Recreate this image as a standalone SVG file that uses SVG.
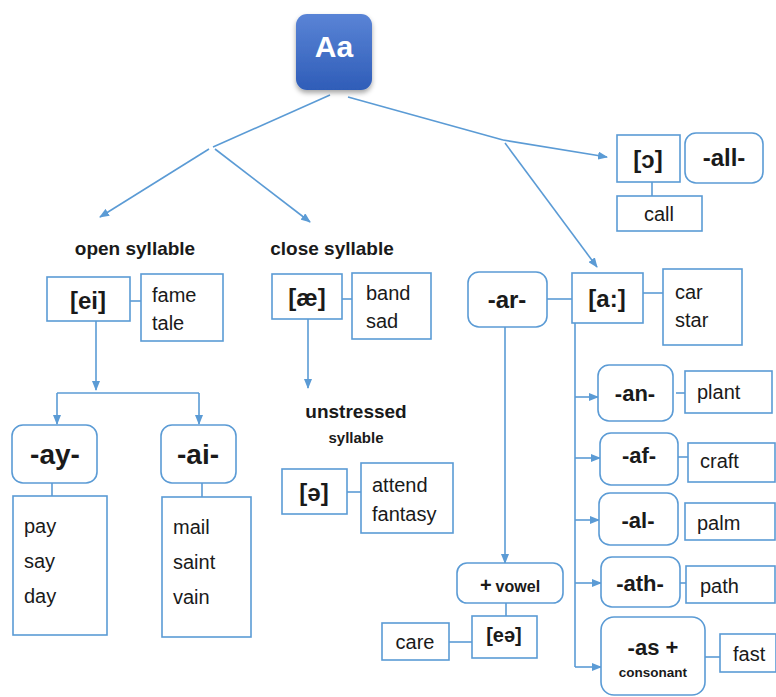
<svg xmlns="http://www.w3.org/2000/svg" width="776" height="697" viewBox="0 0 776 697">
<style>
.bx{fill:#fff;stroke:#5b9bd5;stroke-width:1.6}
.ln{fill:none;stroke:#5b9bd5;stroke-width:1.6}
.ar{fill:none;stroke:#5b9bd5;stroke-width:1.6;marker-end:url(#ah)}
text{font-family:"Liberation Sans",Arial,sans-serif;fill:#1a1a1a}
.b{font-weight:bold}
.h{font-weight:bold;font-size:19px}
.lb{font-weight:bold;font-size:24px;text-anchor:middle}
.w{font-size:20px}
.c{text-anchor:middle}
</style>
<defs>
<marker id="ah" markerWidth="10" markerHeight="8" refX="9" refY="4" orient="auto" markerUnits="userSpaceOnUse">
<path d="M0,0 L10,4 L0,8 Z" fill="#5b9bd5"/>
</marker>
<linearGradient id="g" x1="0" y1="0" x2="0" y2="1">
<stop offset="0" stop-color="#5a84d6"/>
<stop offset="1" stop-color="#2f5db8"/>
</linearGradient>
<filter id="sh" x="-20%" y="-20%" width="140%" height="150%">
<feDropShadow dx="0" dy="3" stdDeviation="2.5" flood-color="#000" flood-opacity="0.35"/>
</filter>
</defs>

<g id="connectors">
<polyline class="ln" points="330,95 213,147"/>
<line class="ar" x1="209" y1="149" x2="100" y2="217"/>
<line class="ar" x1="215" y1="149" x2="310" y2="222"/>
<polyline class="ln" points="348,97 503,140"/>
<line class="ar" x1="503" y1="140" x2="607" y2="157"/>
<line class="ar" x1="505" y1="143" x2="597" y2="267"/>
<line class="ln" x1="130" y1="301" x2="141" y2="301"/>
<line class="ar" x1="96" y1="321" x2="96" y2="390"/>
<polyline class="ln" points="57,393 199,393"/>
<line class="ar" x1="57" y1="393" x2="57" y2="424"/>
<line class="ar" x1="199" y1="393" x2="199" y2="424"/>
<line class="ln" x1="52" y1="483" x2="52" y2="496"/>
<line class="ln" x1="202" y1="483" x2="202" y2="497"/>
<line class="ln" x1="342" y1="299" x2="352" y2="299"/>
<line class="ar" x1="308" y1="319" x2="308" y2="388"/>
<line class="ln" x1="347" y1="492" x2="361" y2="492"/>
<line class="ln" x1="652" y1="182" x2="652" y2="196"/>
<line class="ln" x1="547" y1="299" x2="572" y2="299"/>
<line class="ln" x1="643" y1="293" x2="663" y2="293"/>
<line class="ar" x1="505" y1="327" x2="505" y2="563"/>
<line class="ln" x1="506" y1="603" x2="506" y2="616"/>
<line class="ln" x1="449" y1="642" x2="472" y2="642"/>
<line class="ln" x1="575" y1="323" x2="575" y2="667"/>
<line class="ar" x1="575" y1="397" x2="598" y2="397"/>
<line class="ar" x1="575" y1="458" x2="600" y2="458"/>
<line class="ar" x1="575" y1="520" x2="599" y2="520"/>
<line class="ar" x1="575" y1="583" x2="601" y2="583"/>
<line class="ar" x1="575" y1="667" x2="601" y2="667"/>
<line class="ln" x1="676" y1="393" x2="685" y2="393"/>
<line class="ln" x1="678" y1="457" x2="688" y2="457"/>
<line class="ln" x1="680" y1="583" x2="686" y2="583"/>
<line class="ln" x1="705" y1="657" x2="720" y2="657"/>
</g>

<g id="Aa">
<rect x="296" y="14" width="76" height="76" rx="11" fill="url(#g)" filter="url(#sh)"/>
<text x="334" y="57" class="b c" style="font-size:30px;fill:#fff">Aa</text>
</g>

<g id="open-syllable"><text x="135" y="255" class="h c">open syllable</text></g>
<g id="close-syllable"><text x="332" y="255" class="h c">close syllable</text></g>

<g id="ei">
<rect class="bx" x="47" y="277" width="83" height="44"/>
<text x="88" y="309" class="lb">[ei]</text>
</g>
<g id="fame-tale">
<rect class="bx" x="141" y="274" width="82" height="67"/>
<text x="152" y="302" class="w">fame</text>
<text x="152" y="330" class="w">tale</text>
</g>

<g id="ay">
<rect class="bx" x="12" y="425" width="85" height="58" rx="11"/>
<text x="55" y="464" class="lb" style="font-size:28px">-ay-</text>
</g>
<g id="ay-words">
<rect class="bx" x="13" y="496" width="94" height="139"/>
<text x="24" y="533" class="w">pay</text>
<text x="24" y="568" class="w">say</text>
<text x="24" y="603" class="w">day</text>
</g>
<g id="ai">
<rect class="bx" x="161" y="425" width="75" height="58" rx="11"/>
<text x="198" y="464" class="lb" style="font-size:28px">-ai-</text>
</g>
<g id="ai-words">
<rect class="bx" x="162" y="497" width="89" height="140"/>
<text x="173" y="534" class="w">mail</text>
<text x="173" y="569" class="w">saint</text>
<text x="173" y="604" class="w">vain</text>
</g>

<g id="ae">
<rect class="bx" x="272" y="274" width="70" height="45"/>
<text x="307" y="306" class="lb">[æ]</text>
</g>
<g id="band-sad">
<rect class="bx" x="352" y="273" width="79" height="66"/>
<text x="366" y="300" class="w">band</text>
<text x="366" y="328" class="w">sad</text>
</g>

<g id="unstressed">
<text x="356" y="418" class="h c">unstressed</text>
<text x="356" y="443" class="b c" style="font-size:15px">syllable</text>
</g>
<g id="schwa">
<rect class="bx" x="282" y="469" width="65" height="45"/>
<text x="314" y="501" class="lb">[ə]</text>
</g>
<g id="attend-fantasy">
<rect class="bx" x="361" y="463" width="92" height="70"/>
<text x="372" y="492" class="w">attend</text>
<text x="372" y="521" class="w">fantasy</text>
</g>

<g id="open-o">
<rect class="bx" x="617" y="135" width="63" height="47"/>
<text x="648" y="168" class="lb">[ɔ]</text>
</g>
<g id="all">
<rect class="bx" x="685" y="133" width="78" height="50" rx="11"/>
<text x="724" y="166" class="lb">-all-</text>
</g>
<g id="call">
<rect class="bx" x="617" y="196" width="85" height="35"/>
<text x="659" y="221" class="w c">call</text>
</g>

<g id="ar">
<rect class="bx" x="468" y="272" width="79" height="55" rx="11"/>
<text x="507" y="308" class="lb">-ar-</text>
</g>
<g id="a-long">
<rect class="bx" x="572" y="273" width="71" height="50"/>
<text x="607" y="307" class="lb">[a:]</text>
</g>
<g id="car-star">
<rect class="bx" x="663" y="269" width="79" height="76"/>
<text x="675" y="299" class="w">car</text>
<text x="675" y="327" class="w">star</text>
</g>

<g id="an">
<rect class="bx" x="598" y="365" width="75" height="56" rx="11"/>
<text x="635" y="401" class="lb" style="font-size:22px">-an-</text>
</g>
<g id="plant">
<rect class="bx" x="685" y="371" width="87" height="42"/>
<text x="697" y="399" class="w">plant</text>
</g>
<g id="af">
<rect class="bx" x="600" y="433" width="78" height="52" rx="11"/>
<text x="639" y="463" class="lb" style="font-size:22px">-af-</text>
</g>
<g id="craft">
<rect class="bx" x="688" y="443" width="87" height="39"/>
<text x="700" y="468" class="w">craft</text>
</g>
<g id="al">
<rect class="bx" x="599" y="493" width="79" height="52" rx="11"/>
<text x="638" y="528" class="lb" style="font-size:22px">-al-</text>
</g>
<g id="palm">
<rect class="bx" x="685" y="503" width="90" height="37"/>
<text x="697" y="530" class="w">palm</text>
</g>
<g id="ath">
<rect class="bx" x="601" y="557" width="79" height="50" rx="11"/>
<text x="640" y="591" class="lb" style="font-size:22px">-ath-</text>
</g>
<g id="path">
<rect class="bx" x="686" y="566" width="89" height="37"/>
<text x="700" y="593" class="w">path</text>
</g>
<g id="as-consonant">
<rect class="bx" x="601" y="617" width="104" height="78" rx="13"/>
<text x="653" y="655" class="lb" style="font-size:22px">-as +</text>
<text x="653" y="677" class="b c" style="font-size:13.5px">consonant</text>
</g>
<g id="fast">
<rect class="bx" x="720" y="634" width="56" height="38"/>
<text x="733" y="661" class="w">fast</text>
</g>

<g id="vowel">
<rect class="bx" x="457" y="563" width="106" height="40" rx="10"/>
<text x="510" y="592" class="b c"><tspan style="font-size:20px">+</tspan><tspan dx="4" style="font-size:16px">vowel</tspan></text>
</g>
<g id="e-schwa">
<rect class="bx" x="472" y="616" width="65" height="42"/>
<text x="504" y="642" class="b c" style="font-size:20px">[eə]</text>
</g>
<g id="care">
<rect class="bx" x="382" y="623" width="67" height="37"/>
<text x="415" y="649" class="w c">care</text>
</g>
</svg>
